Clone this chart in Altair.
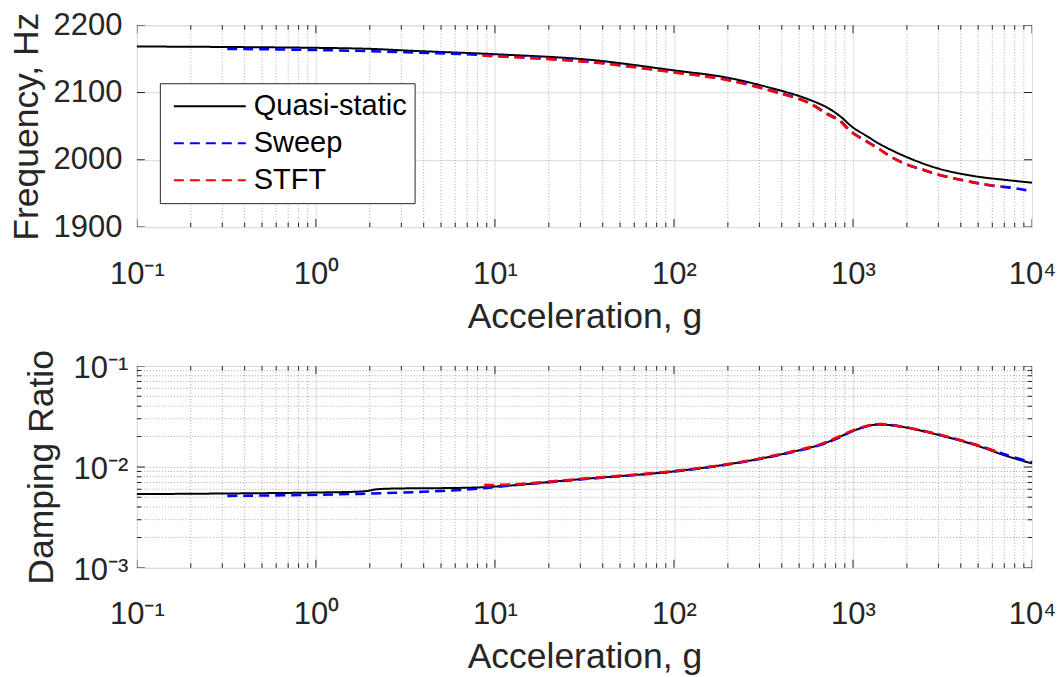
import altair as alt
import pandas as pd

FONT = "Liberation Sans"
TXT = "#262626"
MAJ_GRID = "#dcdcdc"
MIN_GRID = "#ababab"

SERIES = ["Quasi-static", "Sweep", "STFT"]
COLORS = ["#000000", "#0000ff", "#ff0000"]
DASHES = [[1, 0], [10, 6], [10, 6]]
WIDTHS = [2.0, 2.6, 2.6]

# ---- frequency panel data ----
QS_ACC_F = [0.1, 0.3, 1, 2, 3.5, 10, 33, 100, 200, 400, 550, 720, 850, 1000, 1200, 1420, 2000, 3000, 4700, 7200, 10000]
QS_FREQ = [2168.5, 2167.8, 2166.5, 2165, 2162, 2157, 2149, 2133, 2122, 2102.5, 2091, 2077.5, 2064.5, 2048, 2035, 2023, 2004, 1987, 1976, 1970, 1966]

SW_ACC_F = [0.32, 1, 3.2, 8.3, 33, 100, 200, 400, 550, 720, 850, 930, 1000, 1200, 1420, 1620, 2000, 2500, 3000, 4700, 6100, 8200, 10000]
SW_FREQ = [2165, 2163.3, 2160, 2156, 2146, 2130.5, 2119, 2098.5, 2086.5, 2068.5, 2058, 2047.5, 2040, 2027, 2015, 2005, 1993, 1984.5, 1978, 1966.5, 1961.5, 1957.5, 1953]

ST_ACC_F = [8.5, 10, 33, 100, 200, 400, 550, 720, 850, 930, 1000, 1200, 1420, 1620, 2000, 2500, 3000, 4700, 6800]
ST_FREQ = [2155, 2154, 2145.5, 2130, 2118.5, 2098, 2086, 2067.5, 2057, 2046.5, 2039.5, 2026.5, 2015, 2005, 1993, 1985, 1978, 1966.5, 1960]

# ---- damping panel data ----
QS_ACC_D = [0.1, 1, 1.9, 2.2, 9, 30, 100, 224, 394, 665, 825, 1000, 1270, 1450, 1970, 3040, 4690, 7240, 10000]
QS_DAMP = [0.00537, 0.00557, 0.00575, 0.00600, 0.00631, 0.00755, 0.00902, 0.01096, 0.01328, 0.0167, 0.0195, 0.0227, 0.0259, 0.0263, 0.0246, 0.0206, 0.0167, 0.0128, 0.0108]

SW_ACC_D = [0.32, 1.06, 3.84, 8.3, 10.7, 30, 100, 224, 394, 665, 825, 1000, 1270, 1450, 1970, 3040, 4690, 7240, 10000]
SW_DAMP = [0.00516, 0.0053, 0.00565, 0.0061, 0.0064, 0.0075, 0.0090, 0.0109, 0.0132, 0.0166, 0.0193, 0.0228, 0.0260, 0.0264, 0.0247, 0.0208, 0.0169, 0.0131, 0.0111]

ST_ACC_D = [8.7, 12.6, 30, 100, 224, 394, 665, 825, 1000, 1270, 1450, 1970, 3040, 4690, 6700]
ST_DAMP = [0.0066, 0.0067, 0.0076, 0.0091, 0.0110, 0.0134, 0.0169, 0.0198, 0.0230, 0.0261, 0.0265, 0.0247, 0.0208, 0.0169, 0.0137]

# ---- tick positions ----
X_MAJOR = [0.1, 1, 10, 100, 1000, 10000]
X_MINOR = [k * 10.0 ** e for e in range(-1, 4) for k in range(2, 10)]
F_MAJOR = [1900, 2000, 2100, 2200]
D_MAJOR = [0.001, 0.01, 0.1]
D_MINOR = [k * 10.0 ** e for e in (-3, -2) for k in range(2, 10)]

W, H = 896, 202

SUP = ("'10' + replace(replace(replace(replace(replace(replace("
       "toString(round(log(datum.value)/LN10)), '-', '\u207b'), '0', '\u2070'), "
       "'1', '\u00b9'), '2', '\u00b2'), '3', '\u00b3'), '4', '\u2074')")

XSCALE = alt.Scale(type="log", domain=[0.1, 10000], nice=False)
FSCALE = alt.Scale(domain=[1900, 2200], nice=False, zero=False)
DSCALE = alt.Scale(type="log", domain=[0.001, 0.1], nice=False)

common_axis = dict(grid=True, gridColor=MAJ_GRID, gridWidth=1, ticks=False, tickSize=0,
                   domain=False, labelFont=FONT, labelColor=TXT, labelFontSize=31,
                   labelOverlap=False, labelFlush=False, titleFont=FONT, titleFontSize=35.5,
                   titleFontWeight="normal", titleColor=TXT)

XAXIS = alt.Axis(values=X_MAJOR, labelExpr=SUP, labelBaseline="alphabetic", labelPadding=56,
                 title="Acceleration, g", titleBaseline="alphabetic", titleAlign="center",
                 titleX=W / 2, titleY=100, **common_axis)
FAXIS = alt.Axis(values=F_MAJOR, format="d", labelPadding=15, title="Frequency, Hz",
                 titleBaseline="alphabetic", titleAlign="center", titleAngle=270,
                 titleX=-99, titleY=H / 2, **common_axis)
DAXIS = alt.Axis(values=D_MAJOR, labelExpr=SUP, labelPadding=9, labelOffset=3,
                 title="Damping Ratio", titleBaseline="alphabetic", titleAlign="center",
                 titleAngle=270, titleX=-84, titleY=H / 2, **common_axis)

LEGEND = alt.Legend(title=None, orient="none", legendX=23, legendY=58, fillColor="white",
                    strokeColor=TXT, padding=7, cornerRadius=0, labelFont=FONT,
                    labelFontSize=29, labelColor="black", labelLimit=400, symbolType="stroke",
                    symbolSize=5184, symbolStrokeWidth=2, symbolOffset=6, labelOffset=7,
                    rowPadding=5, clipHeight=32)


def long_df(acc, val, name):
    return pd.DataFrame({"acc": acc, "val": val, "series": name})


def panel(curves, yscale, yaxis, ymajor, yminor, ylo, yhi, legend):
    X = alt.X("acc:Q", scale=XSCALE, axis=XAXIS)
    Y = alt.Y("val:Q", scale=yscale, axis=yaxis)
    layers = []
    # minor grid
    layers.append(alt.Chart(pd.DataFrame({"acc": X_MINOR})).mark_rule(
        color=MIN_GRID, strokeDash=[1, 2], strokeWidth=1).encode(x=X))
    if yminor:
        layers.append(alt.Chart(pd.DataFrame({"val": yminor})).mark_rule(
            color=MIN_GRID, strokeDash=[1, 2], strokeWidth=1).encode(y=Y))
    # curves
    for (acc, val, name), sw in zip(curves, WIDTHS):
        layers.append(alt.Chart(long_df(acc, val, name)).mark_line(
            strokeWidth=sw, interpolate="catmull-rom").encode(
            x=X, y=Y,
            color=alt.Color("series:N", scale=alt.Scale(domain=SERIES, range=COLORS), legend=legend),
            strokeDash=alt.StrokeDash("series:N", scale=alt.Scale(domain=SERIES, range=DASHES), legend=legend)))
    # inward ticks on bottom and top edges
    for vals, size in ((X_MAJOR, 16), (X_MINOR, 9)):
        for yd in (ylo, yhi):
            layers.append(alt.Chart(pd.DataFrame({"acc": vals})).mark_tick(
                orient="vertical", size=size, thickness=1, color=TXT, opacity=1, clip=True).encode(
                x=X, y=alt.YDatum(yd, type="quantitative", scale=yscale, axis=yaxis)))
    # inward ticks on left and right edges
    for vals, size in ((ymajor, 16), (yminor, 9)):
        if not vals:
            continue
        for xd in (0.1, 10000):
            layers.append(alt.Chart(pd.DataFrame({"val": vals})).mark_tick(
                orient="horizontal", size=size, thickness=1, color=TXT, opacity=1, clip=True).encode(
                x=alt.XDatum(xd, type="quantitative", scale=XSCALE, axis=XAXIS), y=Y))
    return alt.layer(*layers).properties(width=W, height=H)


top = panel([(QS_ACC_F, QS_FREQ, "Quasi-static"), (SW_ACC_F, SW_FREQ, "Sweep"), (ST_ACC_F, ST_FREQ, "STFT")],
            FSCALE, FAXIS, F_MAJOR, [], 1900, 2200, LEGEND)
bottom = panel([(QS_ACC_D, QS_DAMP, "Quasi-static"), (SW_ACC_D, SW_DAMP, "Sweep"), (ST_ACC_D, ST_DAMP, "STFT")],
               DSCALE, DAXIS, D_MAJOR, D_MINOR, 0.001, 0.1, None)

chart = alt.vconcat(top, bottom, spacing=14).resolve_scale(
    color="independent", strokeDash="independent").properties(
    padding={"left": 9, "top": 8, "right": 5, "bottom": 0}, background="white").configure_view(
    stroke=TXT, strokeWidth=1).configure(font=FONT)

chart.save("out.html", embed_options={"renderer": "svg", "actions": False})
